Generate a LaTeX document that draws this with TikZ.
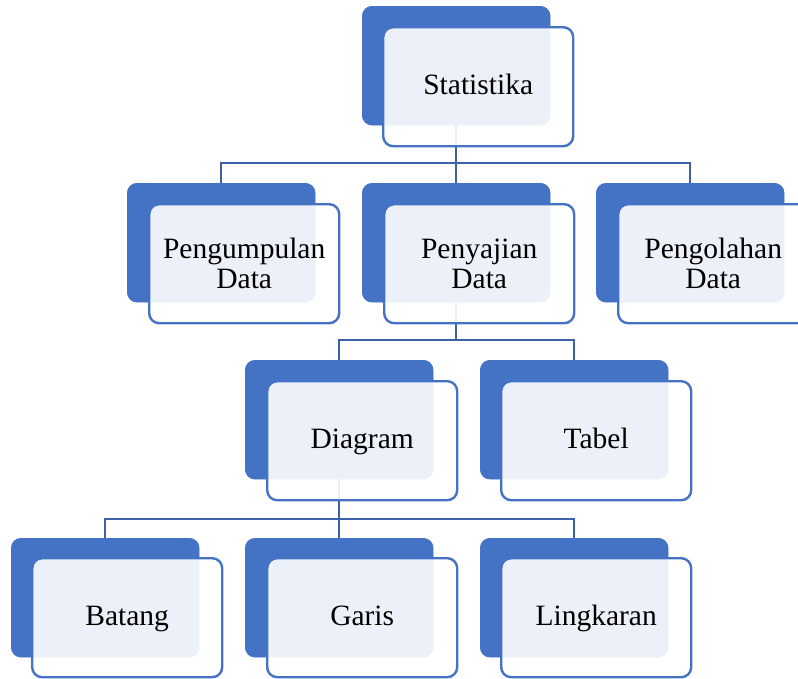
\documentclass[tikz,border=0pt]{standalone}
\usepackage{fontspec}
\setmainfont{Liberation Serif}
\definecolor{accent}{HTML}{4472C4}
\definecolor{linkc}{HTML}{3B62A9}
\tikzset{
  backbox/.style={anchor=north west, fill=accent, draw=none, rounded corners=10pt,
    minimum width=188pt, minimum height=119pt, inner sep=0pt},
  frontbox/.style={anchor=north west, fill=white, fill opacity=0.9, text opacity=1,
    draw=accent, draw opacity=1, line width=2.4pt, rounded corners=10pt,
    minimum width=190pt, minimum height=119pt, inner sep=0pt, align=center,
    font=\fontsize{29.5}{30}\selectfont},
  oneline/.style={text height=21pt, text depth=6pt},
  link/.style={draw=linkc, line width=2.5pt}
}
\begin{document}
\begin{tikzpicture}[x=1pt,y=-1pt]
\useasboundingbox (0,0) rectangle (798,678);
\clip (0,0) rectangle (798,678);
% back boxes (named, for connectors)
\node[backbox] (statb) at (362,6) {};
\node[backbox] (kumpb) at (127,183) {};
\node[backbox] (sajib) at (362,183) {};
\node[backbox] (olahb) at (596,183) {};
\node[backbox] (diagb) at (245,360) {};
\node[backbox] (tabb) at (480,360) {};
\node[backbox] (batb) at (11,538) {};
\node[backbox] (garb) at (245,538) {};
\node[backbox] (lingb) at (480,538) {};
% connectors (behind the translucent front boxes)
\draw[link] (statb.south) -- ++(0,38);
\draw[link] (kumpb.north) -- ++(0,-20) -| (olahb.north);
\draw[link] (sajib.north) -- ++(0,-20);
\draw[link] (sajib.south) -- ++(0,38);
\draw[link] (diagb.north) -- ++(0,-20) -| (tabb.north);
\draw[link] (diagb.south) -- ++(0,41);
\draw[link] (batb.north) -- ++(0,-19) -| (lingb.north);
\draw[link] (garb.north) -- ++(0,-19);
% redraw back boxes on top of connectors
\foreach \n in {statb,kumpb,sajib,olahb,diagb,tabb,batb,garb,lingb}{
  \fill[accent, rounded corners=10pt] (\n.north west) rectangle (\n.south east);
}
% front boxes with text
\node[frontbox,oneline] (stat) at (382,26) {Statistika};
\node[frontbox] (kump) at (148,203) {Pengumpulan\\Data};
\node[frontbox] (saji) at (383,203) {Penyajian\\Data};
\node[frontbox] (olah) at (617,203) {Pengolahan\\Data};
\node[frontbox,oneline] (diag) at (266,380) {Diagram};
\node[frontbox,oneline] (tab) at (500,380) {Tabel};
\node[frontbox,oneline] (bat) at (31,557) {Batang};
\node[frontbox,oneline] (gar) at (266,557) {Garis};
\node[frontbox,oneline] (ling) at (500,557) {Lingkaran};
\end{tikzpicture}
\end{document}
